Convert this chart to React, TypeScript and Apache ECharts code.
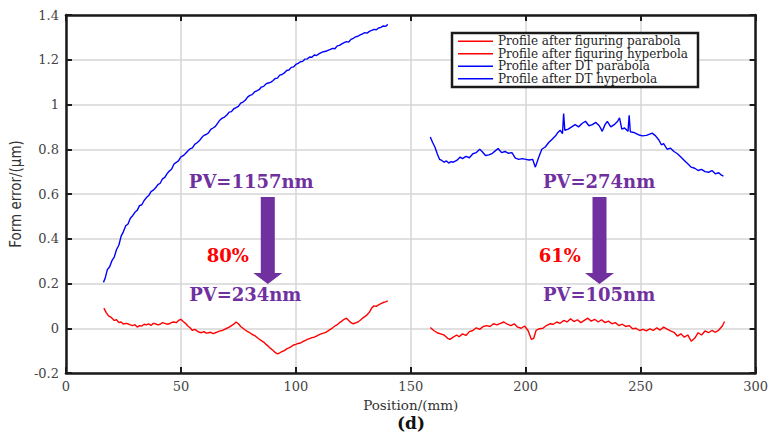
import React, { useEffect, useRef } from "react";
import * as echarts from "echarts";

// ---- Data (Position mm, Form error µm) ----
const dtParabola: [number, number][] = [
  [16.3, 0.205], [17, 0.222], [18, 0.262], [19, 0.275], [20, 0.302], [21, 0.318], [22, 0.352], [23, 0.371],
  [24, 0.412], [25, 0.432], [26, 0.458], [27, 0.466], [28, 0.492], [29, 0.503], [30, 0.518], [31, 0.527],
  [32, 0.548], [33, 0.552], [34, 0.571], [35, 0.584], [36, 0.593], [37, 0.611], [38, 0.617], [39, 0.628],
  [40, 0.642], [41, 0.648], [42, 0.668], [43, 0.674], [44, 0.691], [45, 0.703], [46, 0.712], [47, 0.734],
  [48, 0.741], [49, 0.749], [50, 0.766], [51, 0.771], [52, 0.781], [53, 0.792], [54, 0.802], [55, 0.806],
  [56, 0.822], [57, 0.829], [58, 0.838], [59, 0.851], [60, 0.862], [61, 0.866], [62, 0.873], [63, 0.889],
  [64, 0.895], [65, 0.902], [66, 0.917], [67, 0.931], [68, 0.939], [69, 0.944], [70, 0.953], [71, 0.966],
  [72, 0.968], [73, 0.981], [74, 0.986], [75, 0.992], [76, 1.006], [77, 1.011], [78, 1.019], [79, 1.033],
  [80, 1.041], [81, 1.044], [82, 1.056], [83, 1.061], [84, 1.066], [85, 1.078], [86, 1.081], [87, 1.092],
  [88, 1.096], [89, 1.099], [90, 1.106], [91, 1.116], [92, 1.118], [93, 1.131], [94, 1.134], [95, 1.141],
  [96, 1.152], [97, 1.154], [98, 1.166], [99, 1.168], [100, 1.179], [101, 1.184], [102, 1.191], [103, 1.193],
  [104, 1.203], [105, 1.204], [106, 1.212], [107, 1.211], [108, 1.221], [109, 1.219], [110, 1.226], [111, 1.232],
  [112, 1.236], [113, 1.238], [114, 1.242], [115, 1.246], [116, 1.251], [117, 1.249], [118, 1.262], [119, 1.264],
  [120, 1.271], [121, 1.276], [122, 1.281], [123, 1.279], [124, 1.291], [125, 1.296], [126, 1.302], [127, 1.305],
  [128, 1.311], [129, 1.316], [130, 1.321], [131, 1.319], [132, 1.327], [133, 1.331], [134, 1.336], [135, 1.334],
  [136, 1.342], [137, 1.345], [138, 1.351], [139, 1.349], [140, 1.358]
];

const dtHyperbola: [number, number][] = [
  [158.5, 0.855], [159.5, 0.83], [160.5, 0.81], [161.5, 0.78], [162.5, 0.755], [163.5, 0.75], [164.5, 0.742],
  [165.5, 0.748], [166.5, 0.738], [167.5, 0.745], [168.5, 0.742], [170, 0.75], [171.5, 0.765], [172.5, 0.758],
  [174, 0.768], [175.5, 0.762], [177, 0.78], [178.5, 0.785], [180, 0.8], [181, 0.79], [182.5, 0.772],
  [184, 0.775], [185.5, 0.782], [187, 0.795], [188, 0.803], [189.5, 0.785], [191, 0.79], [192.5, 0.782],
  [194, 0.785], [195.5, 0.76], [197, 0.755], [198.5, 0.758], [200, 0.755], [201.5, 0.752], [203, 0.755],
  [204.2, 0.72], [205.5, 0.76], [207, 0.8], [208.5, 0.81], [210, 0.83], [211.5, 0.845], [213, 0.86],
  [214, 0.875], [215, 0.885], [216, 0.87], [216.5, 0.96], [217, 0.885], [218.5, 0.89], [220, 0.9],
  [221.5, 0.91], [223, 0.9], [224.5, 0.915], [226, 0.925], [227.5, 0.905], [229, 0.91], [230.5, 0.92],
  [232, 0.905], [233.3, 0.88], [234.5, 0.91], [235.5, 0.925], [237, 0.9], [238.5, 0.91], [240, 0.925],
  [240.8, 0.94], [241.8, 0.89], [243, 0.895], [244.5, 0.88], [245, 0.952], [245.5, 0.878], [247, 0.875],
  [249, 0.865], [250.7, 0.86], [252.5, 0.862], [254, 0.868], [255, 0.872], [256.5, 0.86], [258, 0.84],
  [259, 0.82], [260, 0.825], [261.5, 0.8], [263, 0.805], [264.5, 0.79], [266, 0.78], [267.5, 0.765],
  [269, 0.75], [270.5, 0.735], [272, 0.72], [273.5, 0.715], [275, 0.705], [276.5, 0.71], [278, 0.7],
  [279.5, 0.697], [281, 0.705], [282.5, 0.69], [284, 0.695], [285, 0.685], [286, 0.68]
];

const figParabola: [number, number][] = [
  [16.5, 0.09], [17.5, 0.07], [18.5, 0.055], [19.5, 0.05], [21, 0.035], [22, 0.038], [23, 0.025], [24, 0.028],
  [25, 0.018], [26, 0.022], [27, 0.02], [28, 0.015], [29, 0.012], [30, 0.016], [31, 0.005], [32, 0.012],
  [33, 0.01], [34, 0.018], [35, 0.015], [36, 0.02], [37, 0.012], [38, 0.022], [39, 0.02], [40, 0.015],
  [41, 0.018], [42, 0.025], [43, 0.022], [44, 0.018], [45, 0.02], [46, 0.026], [47, 0.028], [48, 0.025],
  [49, 0.035], [50, 0.04], [51, 0.03], [52, 0.022], [53, 0.01], [54, 0.002], [55, -0.01], [56, -0.005],
  [57, -0.012], [58, -0.018], [59, -0.02], [60, -0.015], [61, -0.022], [62, -0.02], [63, -0.018], [64, -0.024],
  [65, -0.02], [66, -0.016], [67, -0.012], [68, -0.01], [69, -0.005], [70, 0.0], [71, 0.005], [72, 0.012],
  [73, 0.018], [74, 0.028], [75, 0.02], [76, 0.008], [77, 0.0], [78, -0.008], [79, -0.015], [80, -0.02],
  [81, -0.028], [82, -0.032], [83, -0.04], [84, -0.048], [85, -0.055], [86, -0.062], [87, -0.072], [88, -0.08],
  [89, -0.09], [90, -0.098], [91, -0.108], [92, -0.115], [93, -0.11], [94, -0.104], [95, -0.1], [96, -0.092],
  [97, -0.088], [98, -0.082], [99, -0.075], [100, -0.072], [101, -0.068], [102, -0.066], [103, -0.06],
  [104, -0.055], [105, -0.05], [106, -0.046], [107, -0.042], [108, -0.04], [109, -0.035], [110, -0.03],
  [111, -0.025], [112, -0.022], [113, -0.018], [114, -0.012], [115, -0.005], [116, 0.002], [117, 0.01],
  [118, 0.016], [119, 0.025], [120, 0.032], [121, 0.04], [122, 0.045], [123, 0.035], [124, 0.025],
  [125, 0.02], [126, 0.024], [127, 0.028], [128, 0.036], [129, 0.045], [130, 0.052], [131, 0.06],
  [132, 0.072], [133, 0.09], [134, 0.1], [135, 0.098], [136, 0.105], [137, 0.11], [138, 0.115], [139, 0.118],
  [140, 0.122]
];

const figHyperbola: [number, number][] = [
  [158.5, 0.003], [160, -0.01], [161.5, -0.02], [163, -0.025], [164.5, -0.03], [166, -0.045], [167, -0.05],
  [168.5, -0.04], [170, -0.03], [171, -0.038], [172.5, -0.025], [174, -0.032], [175.5, -0.015], [177, -0.01],
  [178.5, 0.002], [180, -0.005], [181.5, 0.008], [183, 0.012], [184.5, 0.008], [186, 0.02], [187.5, 0.015],
  [189, 0.022], [190.5, 0.028], [192, 0.018], [193.5, 0.012], [195, 0.02], [196.5, 0.005], [198, 0.0],
  [199.5, 0.01], [201, -0.01], [202.5, -0.05], [203.5, -0.045], [204.5, -0.01], [206, -0.002], [207.5, 0.0],
  [209, 0.012], [210.5, 0.02], [212, 0.018], [213.5, 0.028], [215, 0.022], [216.5, 0.035], [218, 0.028],
  [219.5, 0.042], [221, 0.03], [222.5, 0.038], [224, 0.025], [225.5, 0.035], [227, 0.045], [228.5, 0.032],
  [230, 0.04], [231.5, 0.028], [233, 0.038], [234.5, 0.025], [236, 0.032], [237.5, 0.02], [239, 0.025],
  [240.5, 0.012], [242, 0.018], [243.5, 0.008], [245, 0.012], [246.5, -0.002], [248, 0.0], [249.5, -0.01],
  [251, -0.005], [252.5, -0.012], [254, -0.003], [255.5, -0.01], [257, 0.002], [258.5, -0.008], [260, 0.005],
  [261.5, -0.004], [263, -0.012], [264.5, -0.018], [266, -0.035], [267.5, -0.025], [269, -0.04],
  [270.5, -0.03], [272, -0.058], [273.5, -0.045], [275, -0.02], [276.5, -0.03], [278, -0.012], [279.5, -0.02],
  [281, -0.01], [282.5, -0.018], [284, -0.008], [285.5, 0.01], [286.5, 0.03]
];

const seriesNames = [
  "Profile after figuring parabola",
  "Profile after figuring hyperbola",
  "Profile after DT parabola",
  "Profile after DT hyperbola",
];

// Annotations (data coordinates)
const annotations = [
  { arrowX: 87.8, topText: "PV=1157nm", topX: 80.6, bottomText: "PV=234nm", bottomX: 78.0, pct: "80%", pctX: 70.4 },
  { arrowX: 232.1, topText: "PV=274nm", topX: 231.9, bottomText: "PV=105nm", bottomX: 231.9, pct: "61%", pctX: 214.8 },
];
const topTextY = 0.654;
const bottomTextY = 0.149;
const pctY = 0.327;
const shaftTopY = 0.587;
const headBaseY = 0.247;
const tipY = 0.198;

const PURPLE = "#7030A0";
const RED = "#FF0000";
const BLUE = "#0000FF";

export default function App() {
  const ref = useRef<HTMLDivElement>(null);
  useEffect(() => {
    document.body.style.margin = "0";
    const chart = echarts.init(ref.current!, null, { renderer: "svg" });
    const serif = "'DejaVu Serif', serif";
    const tickLabel = (v: number) => String(Math.round(v * 10) / 10);
    const frame = { show: true, onZero: false, lineStyle: { color: "#1a1a1a", width: 2.5 } };
    const ticks = { show: true, inside: true, length: 6, lineStyle: { color: "#1a1a1a", width: 2 } };
    const xBase = { type: "value", min: 0, max: 300, interval: 50 };
    const yBase = { type: "value", min: -0.2, max: 1.4, interval: 0.2 };
    const lineS = (name: string, data: [number, number][], color: string) => ({
      name,
      type: "line",
      data,
      showSymbol: false,
      symbol: "none",
      lineStyle: { width: 1.4, color },
      itemStyle: { color },
      z: 3,
    });
    chart.setOption({
      animation: false,
      grid: { left: 65, right: 14, top: 15, bottom: 69 },
      legend: {
        orient: "vertical",
        left: 452,
        top: 33,
        icon: "rect",
        itemWidth: 35,
        itemHeight: 1.5,
        itemGap: 0,
        padding: [2, 10, 2, 6],
        borderColor: "#1a1a1a",
        borderWidth: 2.5,
        backgroundColor: "#fff",
        textStyle: { fontFamily: serif, fontSize: 12, color: "#1f1f1f", lineHeight: 12.5 },
        data: seriesNames,
        z: 10,
      },
      xAxis: [
        {
          ...xBase,
          position: "bottom",
          name: "Position/(mm)",
          nameLocation: "middle",
          nameGap: 17,
          nameTextStyle: { fontFamily: serif, fontSize: 13.5, color: "#333" },
          axisLine: frame,
          axisTick: ticks,
          axisLabel: { fontFamily: serif, fontSize: 13, color: "#444", margin: 7, formatter: tickLabel },
          splitLine: { show: true, lineStyle: { color: "#d6d6d6", width: 1.5 } },
        },
        {
          ...xBase,
          position: "top",
          axisLine: frame,
          axisTick: ticks,
          axisLabel: { show: false },
          splitLine: { show: false },
        },
      ],
      yAxis: [
        {
          ...yBase,
          position: "left",
          name: "Form error/(\u03bcm)",
          nameLocation: "middle",
          nameGap: 39,
          nameTextStyle: {
            fontFamily: "'Liberation Sans Narrow', 'DejaVu Sans Condensed', sans-serif",
            fontSize: 15,
            color: "#333",
          },
          axisLine: frame,
          axisTick: ticks,
          axisLabel: { fontFamily: serif, fontSize: 13, color: "#444", margin: 7, formatter: tickLabel },
          splitLine: { show: true, lineStyle: { color: "#d6d6d6", width: 1.5 } },
        },
        {
          ...yBase,
          position: "right",
          axisLine: frame,
          axisTick: ticks,
          axisLabel: { show: false },
          splitLine: { show: false },
        },
      ],
      series: [
        lineS(seriesNames[0], figParabola, RED),
        lineS(seriesNames[1], figHyperbola, RED),
        lineS(seriesNames[2], dtParabola, BLUE),
        lineS(seriesNames[3], dtHyperbola, BLUE),
      ],
    });

    const px = (x: number, y: number) =>
      chart.convertToPixel({ xAxisIndex: 0, yAxisIndex: 0 }, [x, y]) as number[];
    const graphics: any[] = [];
    const boldFont = "bold 18px 'DejaVu Serif', serif";
    annotations.forEach((a) => {
      const t = px(a.arrowX, shaftTopY);
      const hb = px(a.arrowX, headBaseY);
      const tip = px(a.arrowX, tipY);
      const cx = t[0];
      graphics.push({
        type: "polygon",
        shape: {
          points: [
            [cx - 7, t[1]],
            [cx + 7, t[1]],
            [cx + 7, hb[1]],
            [cx + 14.5, hb[1]],
            [cx, tip[1]],
            [cx - 14.5, hb[1]],
            [cx - 7, hb[1]],
          ],
        },
        style: { fill: PURPLE },
        z: 20,
      });
      const items = [
        { p: px(a.topX, topTextY), text: a.topText, fill: PURPLE },
        { p: px(a.bottomX, bottomTextY), text: a.bottomText, fill: PURPLE },
        { p: px(a.pctX, pctY), text: a.pct, fill: RED },
      ];
      items.forEach((it) =>
        graphics.push({
          type: "text",
          x: it.p[0],
          y: it.p[1],
          style: { text: it.text, fill: it.fill, font: boldFont, align: "center", verticalAlign: "middle" },
          z: 20,
        })
      );
    });
    graphics.push({
      type: "text",
      x: 411,
      y: 423,
      style: {
        text: "(d)",
        fill: "#111",
        font: "bold 17px 'DejaVu Serif', serif",
        align: "center",
        verticalAlign: "middle",
      },
      z: 20,
    });
    chart.setOption({ graphic: graphics });
    return () => chart.dispose();
  }, []);
  return (
    <div
      ref={ref}
      style={{ width: 771, height: 442, position: "absolute", left: 0, top: 0, background: "#fff" }}
    />
  );
}
